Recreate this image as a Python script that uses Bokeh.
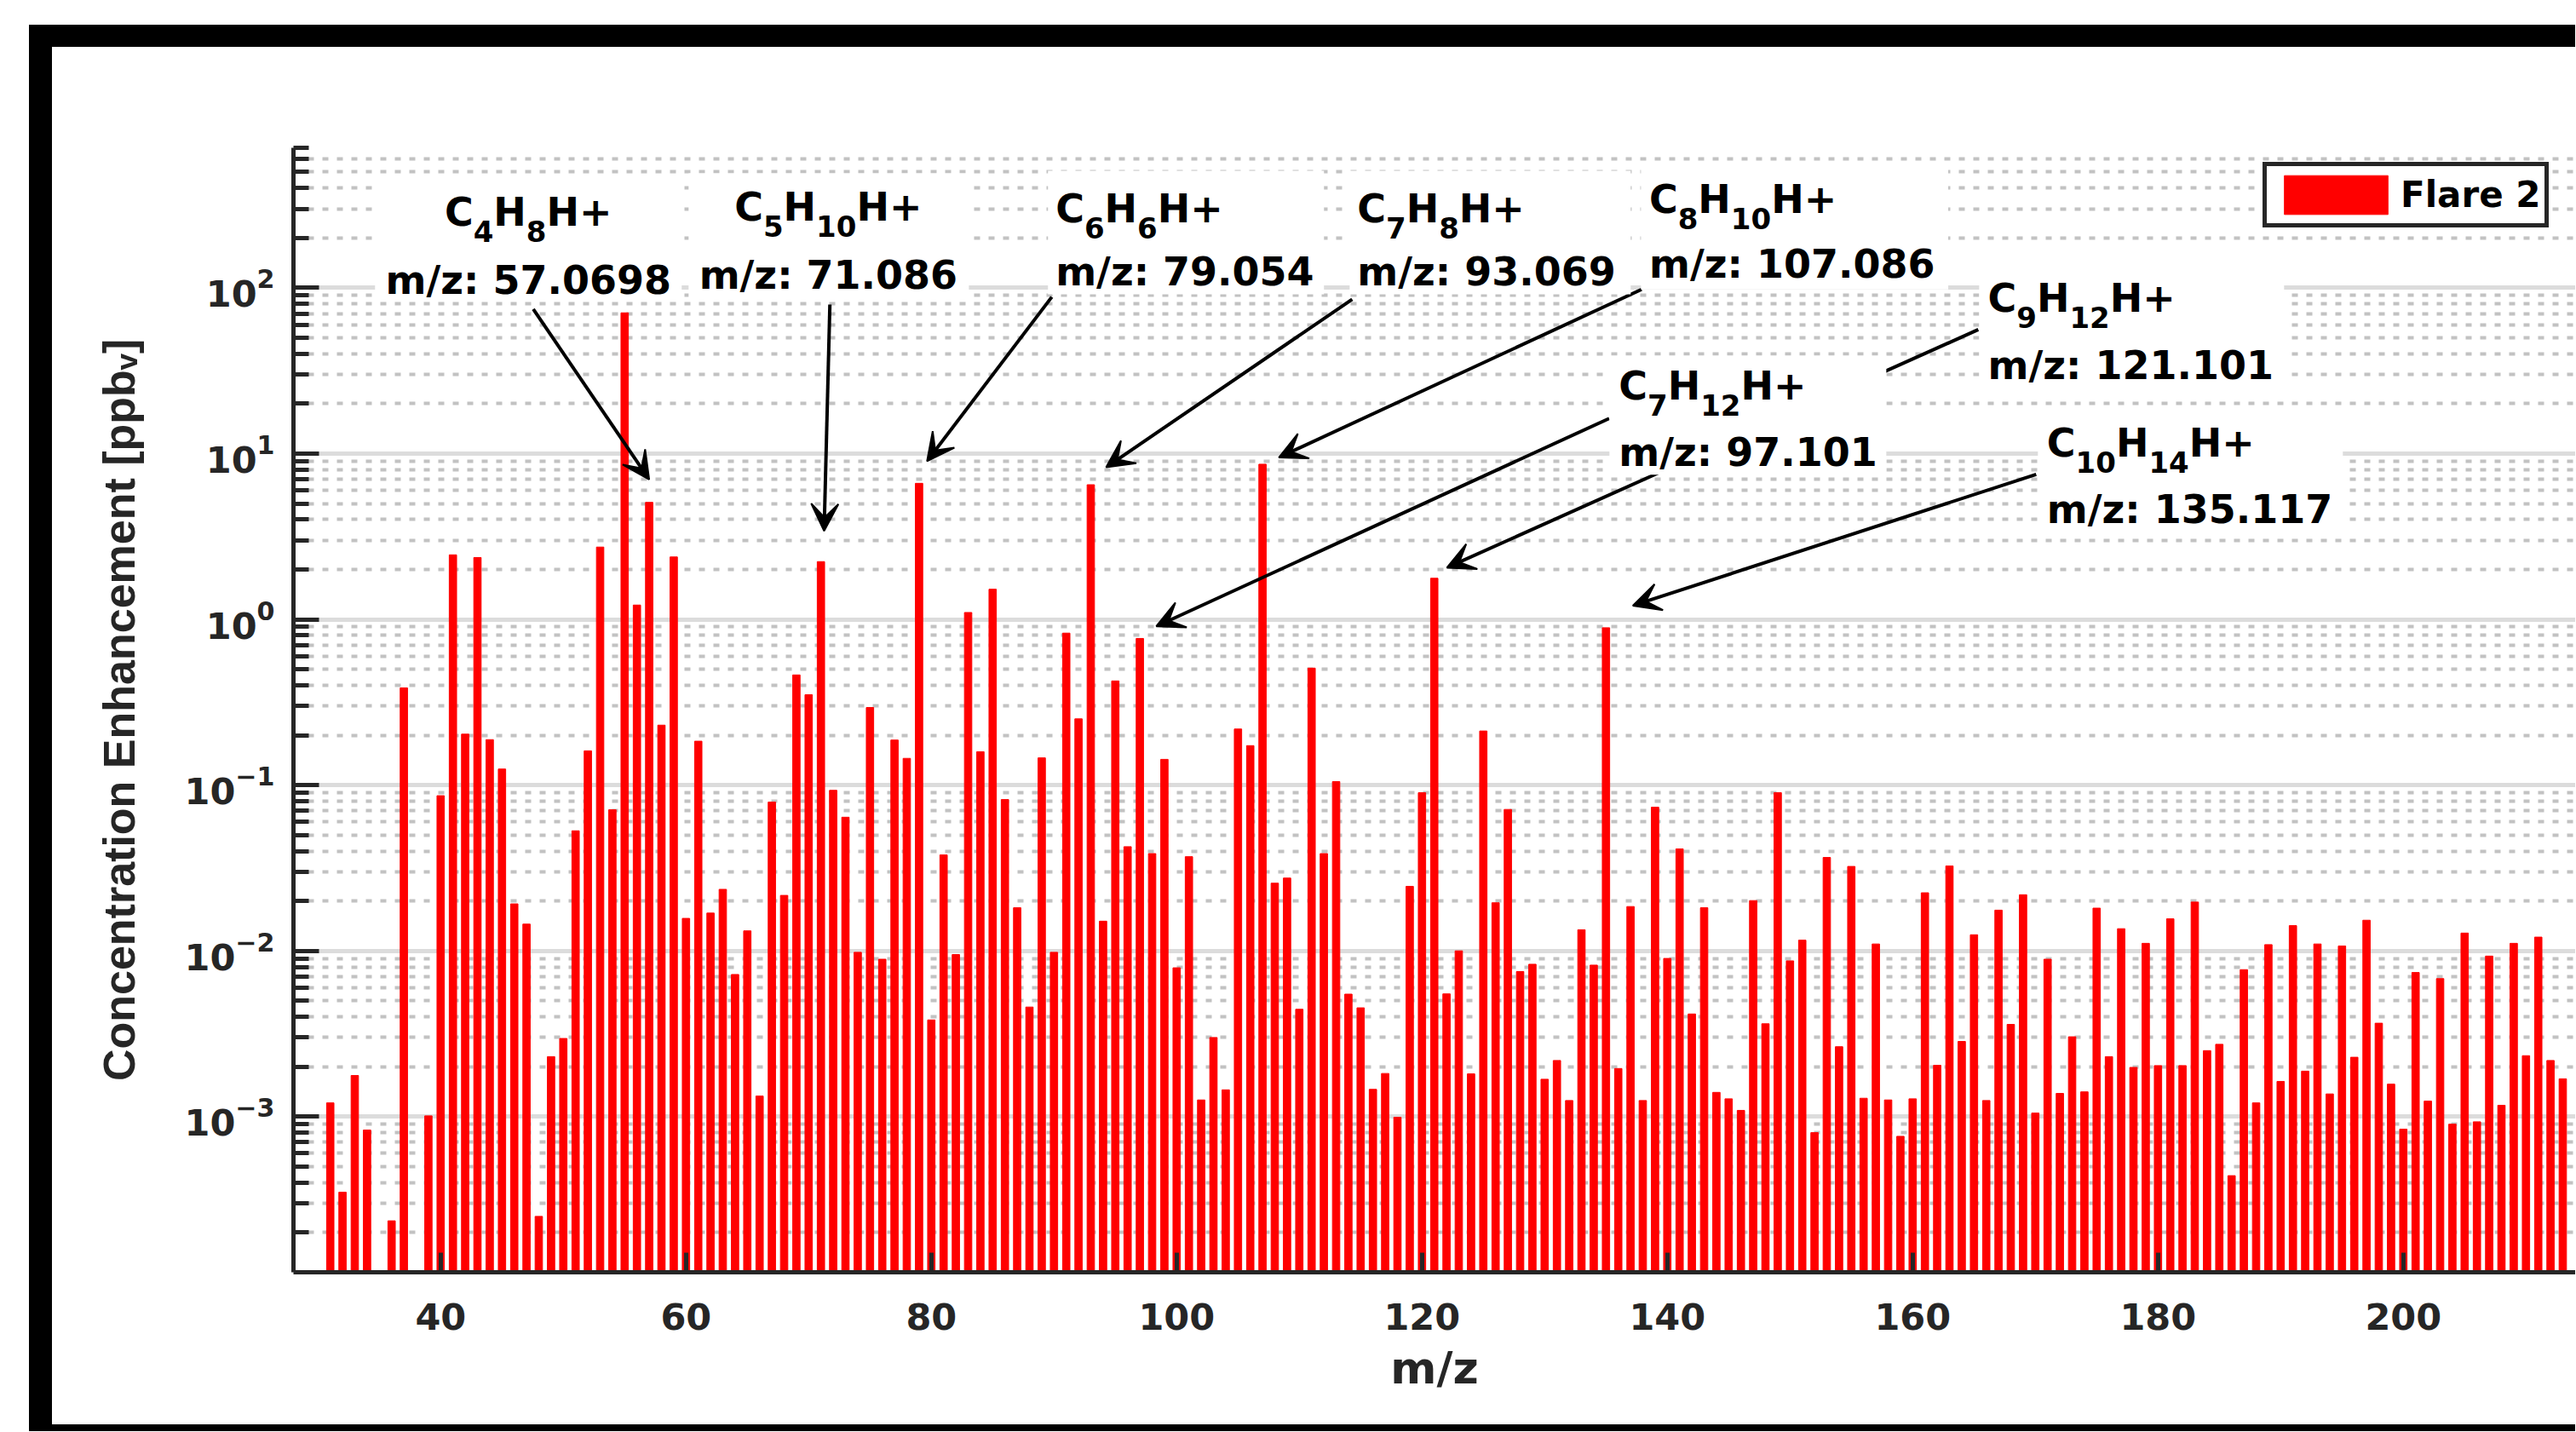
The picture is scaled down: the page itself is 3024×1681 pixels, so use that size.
import math
from bokeh.plotting import figure
from bokeh.models import (FixedTicker, Label, Arrow, VeeHead, BoxAnnotation, Legend,
                          LegendItem, Div, Spacer, Range1d, ColumnDataSource)
from bokeh.layouts import column, row
from bokeh.embed import file_html
from bokeh.resources import INLINE

NaN = float("nan")

# ---------------- data ----------------
mz = list(range(31, 214))

conc_031_060 = [1.21e-3, 3.5e-4, 1.77e-3, 8.3e-4, NaN, 2.35e-4, 0.386, NaN, 1.01e-3, 0.0863,
                2.45, 0.203, 2.36, 0.188, 0.125, 0.0192, 0.0145, 2.5e-4, 2.3e-3, 2.96e-3,
                0.053, 0.161, 2.73, 0.071, 70.7, 1.22, 5.08, 0.23, 2.38, 0.0157]
conc_061_090 = [0.184, 0.0169, 0.0235, 7.2e-3, 0.0132, 1.33e-3, 0.079, 0.0216, 0.462, 0.351,
                2.23, 0.093, 0.064, 9.8e-3, 0.294, 8.9e-3, 0.187, 0.145, 6.62, 3.83e-3,
                0.0379, 9.5e-3, 1.10, 0.159, 1.52, 0.0818, 0.0182, 4.58e-3, 0.146, 9.8e-3]
conc_091_120 = [0.826, 0.251, 6.49, 0.0151, 0.425, 0.0425, 0.767, 0.0386, 0.143, 7.9e-3,
                0.037, 1.26e-3, 3.0e-3, 1.45e-3, 0.218, 0.173, 8.63, 0.0256, 0.0275, 4.44e-3,
                0.508, 0.0386, 0.105, 5.48e-3, 4.53e-3, 1.46e-3, 1.82e-3, 9.9e-4, 0.0245, 0.09]
conc_121_150 = [1.77, 5.5e-3, 0.01, 1.81e-3, 0.212, 0.0195, 0.0713, 7.5e-3, 8.3e-3, 1.68e-3,
                2.18e-3, 1.25e-3, 0.0134, 8.2e-3, 0.89, 1.95e-3, 0.0185, 1.25e-3, 0.0736, 9.0e-3,
                0.0412, 4.16e-3, 0.0182, 1.40e-3, 1.28e-3, 1.09e-3, 0.0201, 3.63e-3, 0.09, 8.7e-3]
conc_151_180 = [0.0116, 8.0e-4, 0.0366, 2.64e-3, 0.0323, 1.29e-3, 0.011, 1.26e-3, 7.6e-4, 1.28e-3,
                0.0224, 2.04e-3, 0.0325, 2.84e-3, 0.0125, 1.25e-3, 0.0176, 3.6e-3, 0.0218, 1.05e-3,
                8.9e-3, 1.38e-3, 3.03e-3, 1.41e-3, 0.0181, 2.3e-3, 0.0136, 1.98e-3, 0.0111, 2.03e-3]
conc_181_213 = [0.0156, 2.03e-3, 0.0197, 2.5e-3, 2.73e-3, 4.4e-4, 7.7e-3, 1.21e-3, 0.0109, 1.63e-3,
                0.0142, 1.88e-3, 0.011, 1.37e-3, 0.0107, 2.28e-3, 0.0153, 3.66e-3, 1.57e-3, 8.4e-4,
                7.4e-3, 1.24e-3, 6.8e-3, 9.0e-4, 0.0128, 9.3e-4, 9.3e-3, 1.17e-3, 0.0111, 2.33e-3,
                0.0121, 2.18e-3, 1.69e-3]
conc = conc_031_060 + conc_061_090 + conc_091_120 + conc_121_150 + conc_151_180 + conc_181_213

x_ticks = [40, 60, 80, 100, 120, 140, 160, 180, 200]
y_major = [1e-3, 1e-2, 1e-1, 1e0, 1e1, 1e2]
series_name = "Flare 2"

# annotation texts: formula as (text, is_subscript) pieces, and the m/z line
ann_formula = [
    [("C", 0), ("4", 1), ("H", 0), ("8", 1), ("H+", 0)],
    [("C", 0), ("5", 1), ("H", 0), ("10", 1), ("H+", 0)],
    [("C", 0), ("6", 1), ("H", 0), ("6", 1), ("H+", 0)],
    [("C", 0), ("7", 1), ("H", 0), ("8", 1), ("H+", 0)],
    [("C", 0), ("8", 1), ("H", 0), ("10", 1), ("H+", 0)],
    [("C", 0), ("7", 1), ("H", 0), ("12", 1), ("H+", 0)],
    [("C", 0), ("9", 1), ("H", 0), ("12", 1), ("H+", 0)],
    [("C", 0), ("10", 1), ("H", 0), ("14", 1), ("H+", 0)],
]
ann_mz = ["m/z: 57.0698", "m/z: 71.086", "m/z: 79.054", "m/z: 93.069",
          "m/z: 107.086", "m/z: 97.101", "m/z: 121.101", "m/z: 135.117"]

# ---------------- placement of the annotations (data coordinates) ----------------
ann_x = [47.15, 71.60, 90.13, 114.72, 138.52, 136.04, 166.13, 170.94]
ann_y1 = [241.7, 259.3, 253.2, 253.2, 288.4, 21.6, 73.1, 9.78]
ann_y2 = [93.7, 100.6, 105.5, 105.5, 117.3, 8.63, 28.7, 3.90]
ann_align = ["center", "center", "left", "left", "left", "left", "left", "left"]
ann_box = [(34.65, 59.65, 463, 84.2), (60.21, 83.06, 491, 86.3), (89.51, 112.01, 508.8, 91.5),
           (114.1, 137.01, 508.8, 91.5), (137.85, 162.9, 527, 97.9), (135.28, 157.85, 39.0, 7.45),
           (165.42, 190.28, 130.5, 24.9), (170.21, 195.07, 17.26, 3.37)]
arrows = [(47.55, 74.4, 57.0, 6.98), (71.73, 79.3, 71.26, 3.41), (89.82, 88.1, 79.65, 9.0),
          (114.31, 85.3, 94.25, 8.27), (137.9, 97.9, 108.33, 9.48), (135.26, 16.3, 98.34, 0.908),
          (165.35, 56.0, 122.03, 2.05), (170.07, 7.5, 137.19, 1.21)]

DARK = "#262626"
FONT = "DejaVu Sans"
MAIN_PX, SUB_PX = 46, 34
TXT_DY = 14          # screen-pixel lift of the annotation baselines
SUB_DROP = 22        # subscripts drop below the baseline
# DejaVu Sans Bold advance widths (em)
ADV = {"C": 0.733, "H": 0.837, "+": 0.838}
for d in "0123456789":
    ADV[d] = 0.696


def piece_width(txt, sub):
    size = SUB_PX if sub else MAIN_PX
    return sum(ADV[c] for c in txt) * size


PW, PH = 2962, 1617
p = figure(width=PW, height=PH, y_axis_type="log",
           x_range=Range1d(28.0, 28.0 + (PW - 283) / 14.4), y_range=Range1d(1.15e-4, 700),
           output_backend="svg", toolbar_location=None,
           min_border_left=283, min_border_right=0, min_border_top=118, min_border_bottom=179)
p.outline_line_color = None
p.background_fill_color = "white"
p.border_fill_color = "white"

src = ColumnDataSource(dict(mz=mz, conc=conc))
bars = p.vbar(x="mz", top="conc", bottom=1e-6, width=0.6, source=src,
              fill_color="#FF0000", line_color="#FF0000", line_width=1)

# axes
p.xaxis.ticker = FixedTicker(ticks=x_ticks)
p.yaxis.ticker = FixedTicker(ticks=y_major,
                             minor_ticks=[m * 10.0 ** k for k in range(-4, 3) for m in range(2, 10)])
for ax in (p.xaxis[0], p.yaxis[0]):
    ax.axis_line_color = DARK
    ax.axis_line_width = 5
    ax.major_tick_line_color = DARK
    ax.major_tick_line_width = 5
    ax.minor_tick_line_color = DARK
    ax.minor_tick_line_width = 5
    ax.major_tick_out = 0
    ax.minor_tick_out = 0
    ax.major_label_text_font = FONT
    ax.major_label_text_font_style = "bold"
    ax.major_label_text_font_size = "43px"
    ax.major_label_text_color = DARK
    ax.axis_label_text_color = DARK
    ax.axis_label_text_font_style = "bold"

p.xaxis.major_tick_in = 23
p.xaxis.minor_tick_in = 0
p.xaxis.major_label_standoff = 36
p.xaxis.axis_label = "m/z"
p.xaxis.axis_label_text_font = FONT
p.xaxis.axis_label_text_font_size = "52px"
p.xaxis.axis_label_standoff = 12

p.yaxis.major_tick_in = 30
p.yaxis.minor_tick_in = 18
p.yaxis.major_label_standoff = 22
p.yaxis.axis_label = "Concentration Enhancement [ppb\u1d65]"
p.yaxis.axis_label_text_font = "Liberation Sans"
p.yaxis.axis_label_text_font_size = "52px"
p.yaxis.axis_label_standoff = 45

# grids
p.xgrid.visible = False
p.ygrid.grid_line_color = "#DCDCDC"
p.ygrid.grid_line_width = 5
p.ygrid.minor_grid_line_color = "#C2C2C2"
p.ygrid.minor_grid_line_width = 4
p.ygrid.minor_grid_line_dash = "7 10"

# arrows (drawn first so the text boxes cover them)
for xs, ys, xe, ye in arrows:
    p.add_layout(Arrow(end=VeeHead(size=32, fill_color="black", line_color="black", line_width=2),
                       x_start=xs, y_start=ys, x_end=xe, y_end=ye,
                       line_color="black", line_width=4))

for (l, r_, t, b) in ann_box:
    p.add_layout(BoxAnnotation(left=l, right=r_, top=t, bottom=b, fill_color="white",
                               fill_alpha=1.0, line_color=None))

for pieces, m, x, y1, y2, al in zip(ann_formula, ann_mz, ann_x, ann_y1, ann_y2, ann_align):
    total = sum(piece_width(t, s) for t, s in pieces)
    off = -total / 2.0 if al == "center" else 0.0
    for txt, sub in pieces:
        p.add_layout(Label(x=x, y=y1, x_offset=off, y_offset=TXT_DY - (SUB_DROP if sub else 0),
                           text=txt, text_align="left", text_baseline="alphabetic",
                           text_font=FONT, text_font_style="bold",
                           text_font_size=f"{SUB_PX if sub else MAIN_PX}px", text_color="black"))
        off += piece_width(txt, sub)
    p.add_layout(Label(x=x, y=y2, y_offset=TXT_DY, text=m, text_align=al, text_baseline="alphabetic",
                       text_font=FONT, text_font_style="bold", text_font_size=f"{MAIN_PX}px",
                       text_color="black"))

legend = Legend(items=[LegendItem(label=series_name, renderers=[bars])],
                location=(2312, 1226), margin=0, padding=5, spacing=0,
                glyph_width=152, glyph_height=57, label_standoff=0,
                label_text_font=FONT, label_text_font_style="bold", label_text_font_size="42px",
                label_text_color="black", border_line_color=DARK, border_line_width=5,
                border_line_alpha=1.0, background_fill_color="white", background_fill_alpha=1.0)
p.add_layout(legend)

# outer page layout with the black frame of the original figure
W = 34 + 27 + PW
blk = {"background-color": "black"}
top_white = Spacer(width=W, height=29, margin=0)
black_top = Div(text="", width=W - 34, height=26, margin=0, styles=blk)
black_left = Div(text="", width=27, height=PH + 8, margin=0, styles=blk)
black_bottom = Div(text="", width=PW, height=8, margin=0, styles=blk)
inner = column(black_top,
               row(black_left, column(p, black_bottom, spacing=0, margin=0), spacing=0, margin=0),
               spacing=0, margin=0)
outer = column(top_white,
               row(Spacer(width=34, height=26 + PH + 8, margin=0), inner, spacing=0, margin=0),
               spacing=0, margin=0)

open("out.html", "w").write(file_html(outer, INLINE))
